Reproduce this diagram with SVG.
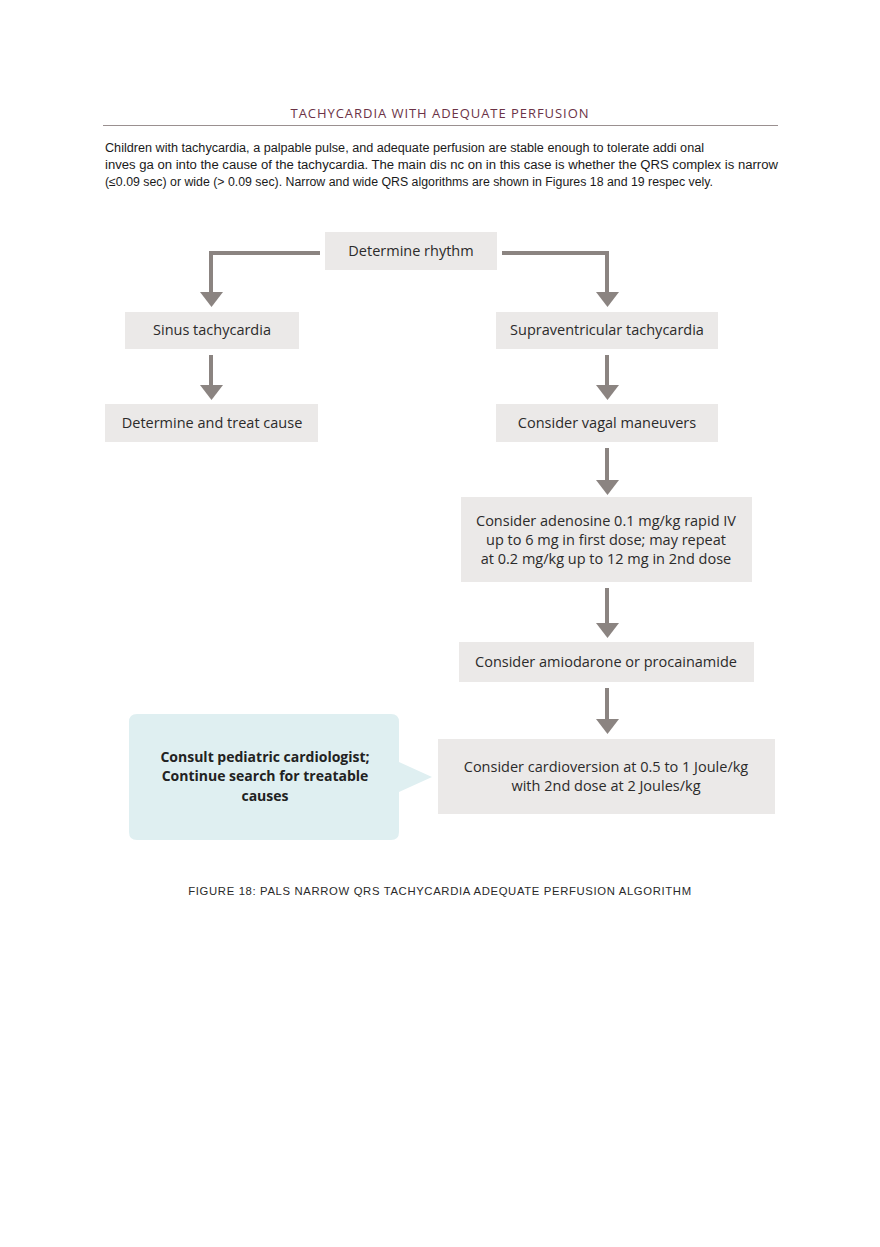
<svg xmlns="http://www.w3.org/2000/svg" width="880" height="1247" viewBox="0 0 880 1247">
<defs>
<style>
.box{fill:#ebe9e8}
.t{font-family:"Open Sans","Noto Sans","Liberation Sans",sans-serif;font-size:14.5px;fill:#2b2b2b;text-anchor:middle}
.b{font-family:"Open Sans","Noto Sans","Liberation Sans",sans-serif;font-size:14px;font-weight:bold;fill:#222;text-anchor:middle}
.p{font-family:"Liberation Sans",Arial,sans-serif;font-size:12.5px;fill:#1a1a1a}
.cap{font-family:"Liberation Sans",Arial,sans-serif;font-size:11.3px;fill:#2a2a2a;text-anchor:middle;letter-spacing:0.65px}
.c{fill:none;stroke:#8b8481;stroke-width:4}
.ah{fill:#8b8481}
</style>
</defs>
<rect width="880" height="1247" fill="#ffffff"/>
<g id="header">
<text x="440" y="118" text-anchor="middle" font-family="'Open Sans','Liberation Sans',sans-serif" font-size="13" letter-spacing="0.95" fill="#6b3347">TACHYCARDIA WITH ADEQUATE PERFUSION</text>
<line x1="103" y1="125.5" x2="778" y2="125.5" stroke="#9a9090" stroke-width="1"/>
<text class="p" x="105" y="152" textLength="599" lengthAdjust="spacingAndGlyphs">Children with tachycardia, a palpable pulse, and adequate perfusion are stable enough to tolerate addi onal</text>
<text class="p" x="105" y="169" textLength="673" lengthAdjust="spacingAndGlyphs">inves ga on into the cause of the tachycardia. The main dis nc on in this case is whether the QRS complex is narrow</text>
<text class="p" x="105" y="186" textLength="608" lengthAdjust="spacingAndGlyphs">(≤0.09 sec) or wide (&gt; 0.09 sec). Narrow and wide QRS algorithms are shown in Figures 18 and 19 respec vely.</text>
</g>
<g id="connectors">
<polyline class="c" points="320,253 211,253 211,293"/>
<polygon class="ah" points="200,292 223,292 211.5,307"/>
<polyline class="c" points="502,253 607,253 607,293"/>
<polygon class="ah" points="596,292 619,292 607.5,307"/>
<line class="c" x1="211" y1="355" x2="211" y2="386"/>
<polygon class="ah" points="200,385 223,385 211.5,400"/>
<line class="c" x1="607" y1="355" x2="607" y2="386"/>
<polygon class="ah" points="596,385 619,385 607.5,400"/>
<line class="c" x1="607" y1="448" x2="607" y2="481"/>
<polygon class="ah" points="596,480 619,480 607.5,495"/>
<line class="c" x1="607" y1="588" x2="607" y2="624"/>
<polygon class="ah" points="596,623 619,623 607.5,638"/>
<line class="c" x1="607" y1="688" x2="607" y2="720"/>
<polygon class="ah" points="596,719 619,719 607.5,734"/>
</g>
<g id="n-rhythm">
<rect class="box" x="325" y="232" width="172" height="38"/>
<text class="t" x="411" y="256">Determine rhythm</text>
</g>
<g id="n-sinus">
<rect class="box" x="125" y="312" width="174" height="37"/>
<text class="t" x="212" y="335">Sinus tachycardia</text>
</g>
<g id="n-svt">
<rect class="box" x="496" y="312" width="222" height="37"/>
<text class="t" x="607" y="335">Supraventricular tachycardia</text>
</g>
<g id="n-cause">
<rect class="box" x="105" y="404" width="213" height="38"/>
<text class="t" x="212" y="428">Determine and treat cause</text>
</g>
<g id="n-vagal">
<rect class="box" x="496" y="404" width="222" height="38"/>
<text class="t" x="607" y="428">Consider vagal maneuvers</text>
</g>
<g id="n-adenosine">
<rect class="box" x="461" y="497" width="291" height="85"/>
<text class="t" x="606" y="526">Consider adenosine 0.1 mg/kg rapid IV</text>
<text class="t" x="606" y="545">up to 6 mg in first dose; may repeat</text>
<text class="t" x="606" y="564">at 0.2 mg/kg up to 12 mg in 2nd dose</text>
</g>
<g id="n-amio">
<rect class="box" x="459" y="642" width="295" height="40"/>
<text class="t" x="606" y="667">Consider amiodarone or procainamide</text>
</g>
<g id="n-cardioversion">
<rect class="box" x="438" y="739" width="337" height="75"/>
<text class="t" x="606" y="772">Consider cardioversion at 0.5 to 1 Joule/kg</text>
<text class="t" x="606" y="791">with 2nd dose at 2 Joules/kg</text>
</g>
<g id="n-consult">
<path d="M137,714 H391 Q399,714 399,722 V762 L432,777 L399,792 V832 Q399,840 391,840 H137 Q129,840 129,832 V722 Q129,714 137,714 Z" fill="#dfeff1"/>
<text class="b" x="265" y="762">Consult pediatric cardiologist;</text>
<text class="b" x="265" y="781">Continue search for treatable</text>
<text class="b" x="265" y="801">causes</text>
</g>
<g id="caption">
<text class="cap" x="440" y="895">FIGURE 18: PALS NARROW QRS TACHYCARDIA ADEQUATE PERFUSION ALGORITHM</text>
</g>
</svg>
